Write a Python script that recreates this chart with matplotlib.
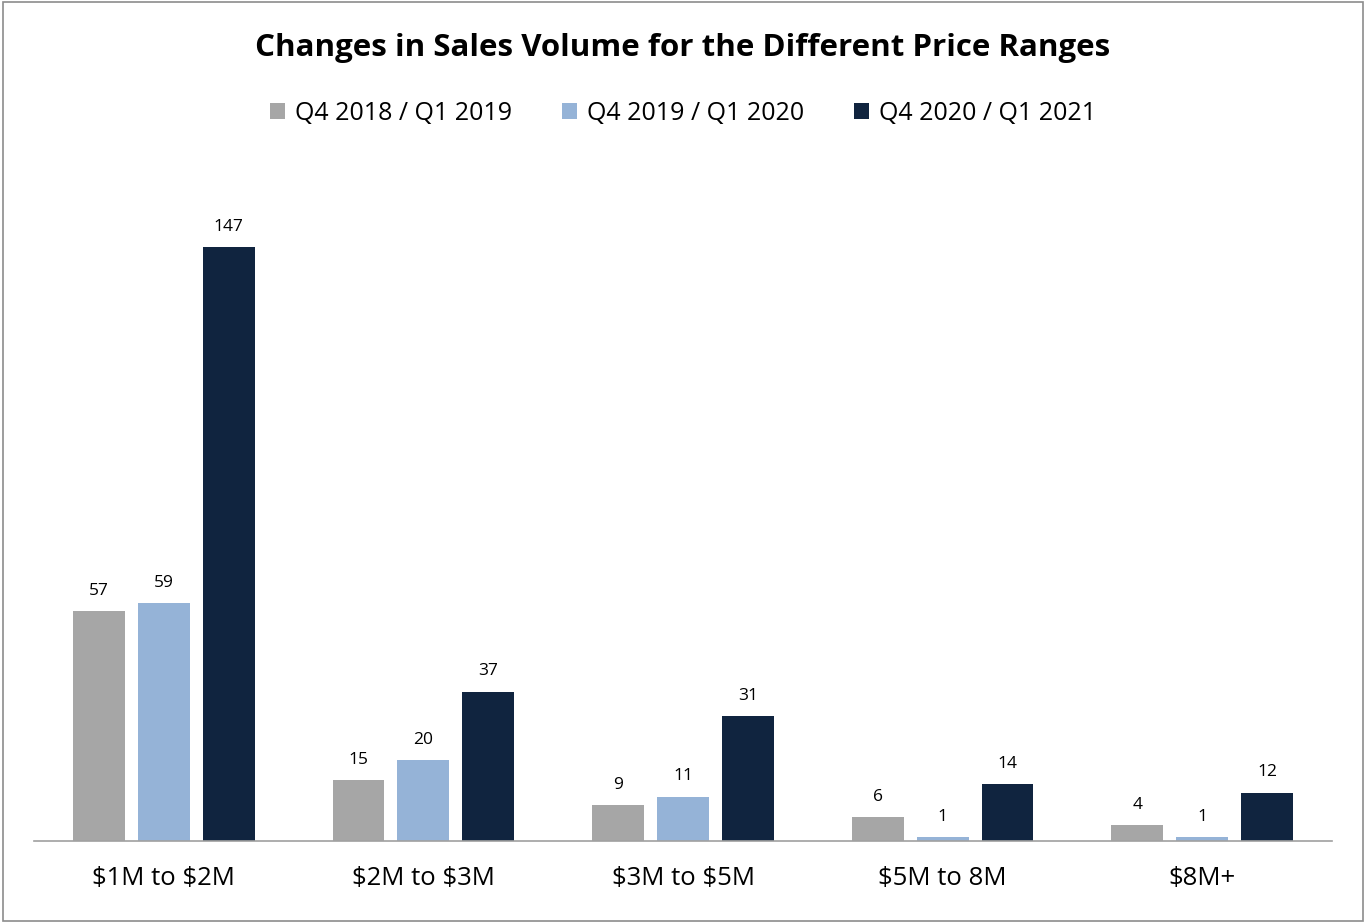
import matplotlib.pyplot as plt
import numpy as np
from matplotlib.patches import Rectangle

plt.rcParams['font.family'] = ['Open Sans', 'DejaVu Sans']

# data
categories = ['\\$1M to \\$2M', '\\$2M to \\$3M', '\\$3M to \\$5M', '\\$5M to 8M', '\\$8M+']
series_names = ['Q4 2018 / Q1 2019', 'Q4 2019 / Q1 2020', 'Q4 2020 / Q1 2021']
q4_2018 = [57, 15, 9, 6, 4]
q4_2019 = [59, 20, 11, 1, 1]
q4_2020 = [147, 37, 31, 14, 12]
colors = ['#A6A6A6', '#95B3D7', '#10243F']

fig = plt.figure(figsize=(13.66, 9.23), dpi=100)
# axes: x 34..1332 px, baseline at y=841, top at y=160
ax = fig.add_axes([34 / 1366, (923 - 841) / 923, (1332 - 34) / 1366, (841 - 160) / 923])

x = np.arange(len(categories))
width = 0.2
offsets = [-0.25, 0, 0.25]
handles = []
for vals, off, col, name in zip([q4_2018, q4_2019, q4_2020], offsets, colors, series_names):
    bars = ax.bar(x + off, vals, width, color=col, label=name)
    handles.append(bars)
    for b, v in zip(bars, vals):
        ax.text(b.get_x() + b.get_width() / 2, v + 3, str(v), ha='center', va='bottom', fontsize=12.5)

ax.set_xlim(-0.5, len(categories) - 0.5)
ax.set_ylim(0, 681 / 4.04)
ax.set_yticks([])
ax.set_xticks(x)
ax.set_xticklabels(categories, fontsize=18.5)
ax.tick_params(axis='x', length=0, pad=18)
for s in ['top', 'right', 'left']:
    ax.spines[s].set_visible(False)
ax.spines['bottom'].set_color('#A0A0A0')
ax.spines['bottom'].set_linewidth(1.2)

fig.text(0.5, 1 - 48 / 923, 'Changes in Sales Volume for the Different Price Ranges',
         ha='center', va='center', fontsize=22.5, fontweight='bold')
fig.legend(handles, series_names, loc='center', bbox_to_anchor=(0.5, 1 - 113 / 923),
           ncol=3, frameon=False, fontsize=18, handlelength=0.6, handleheight=0.6,
           columnspacing=2.0, handletextpad=0.4)

# thin border around the whole chart
fig.patches.append(Rectangle((0.002, 0.002), 0.996, 0.996, transform=fig.transFigure,
                             fill=False, edgecolor='#8C8C8C', linewidth=1.2))

fig.savefig('out.png', dpi=100)
